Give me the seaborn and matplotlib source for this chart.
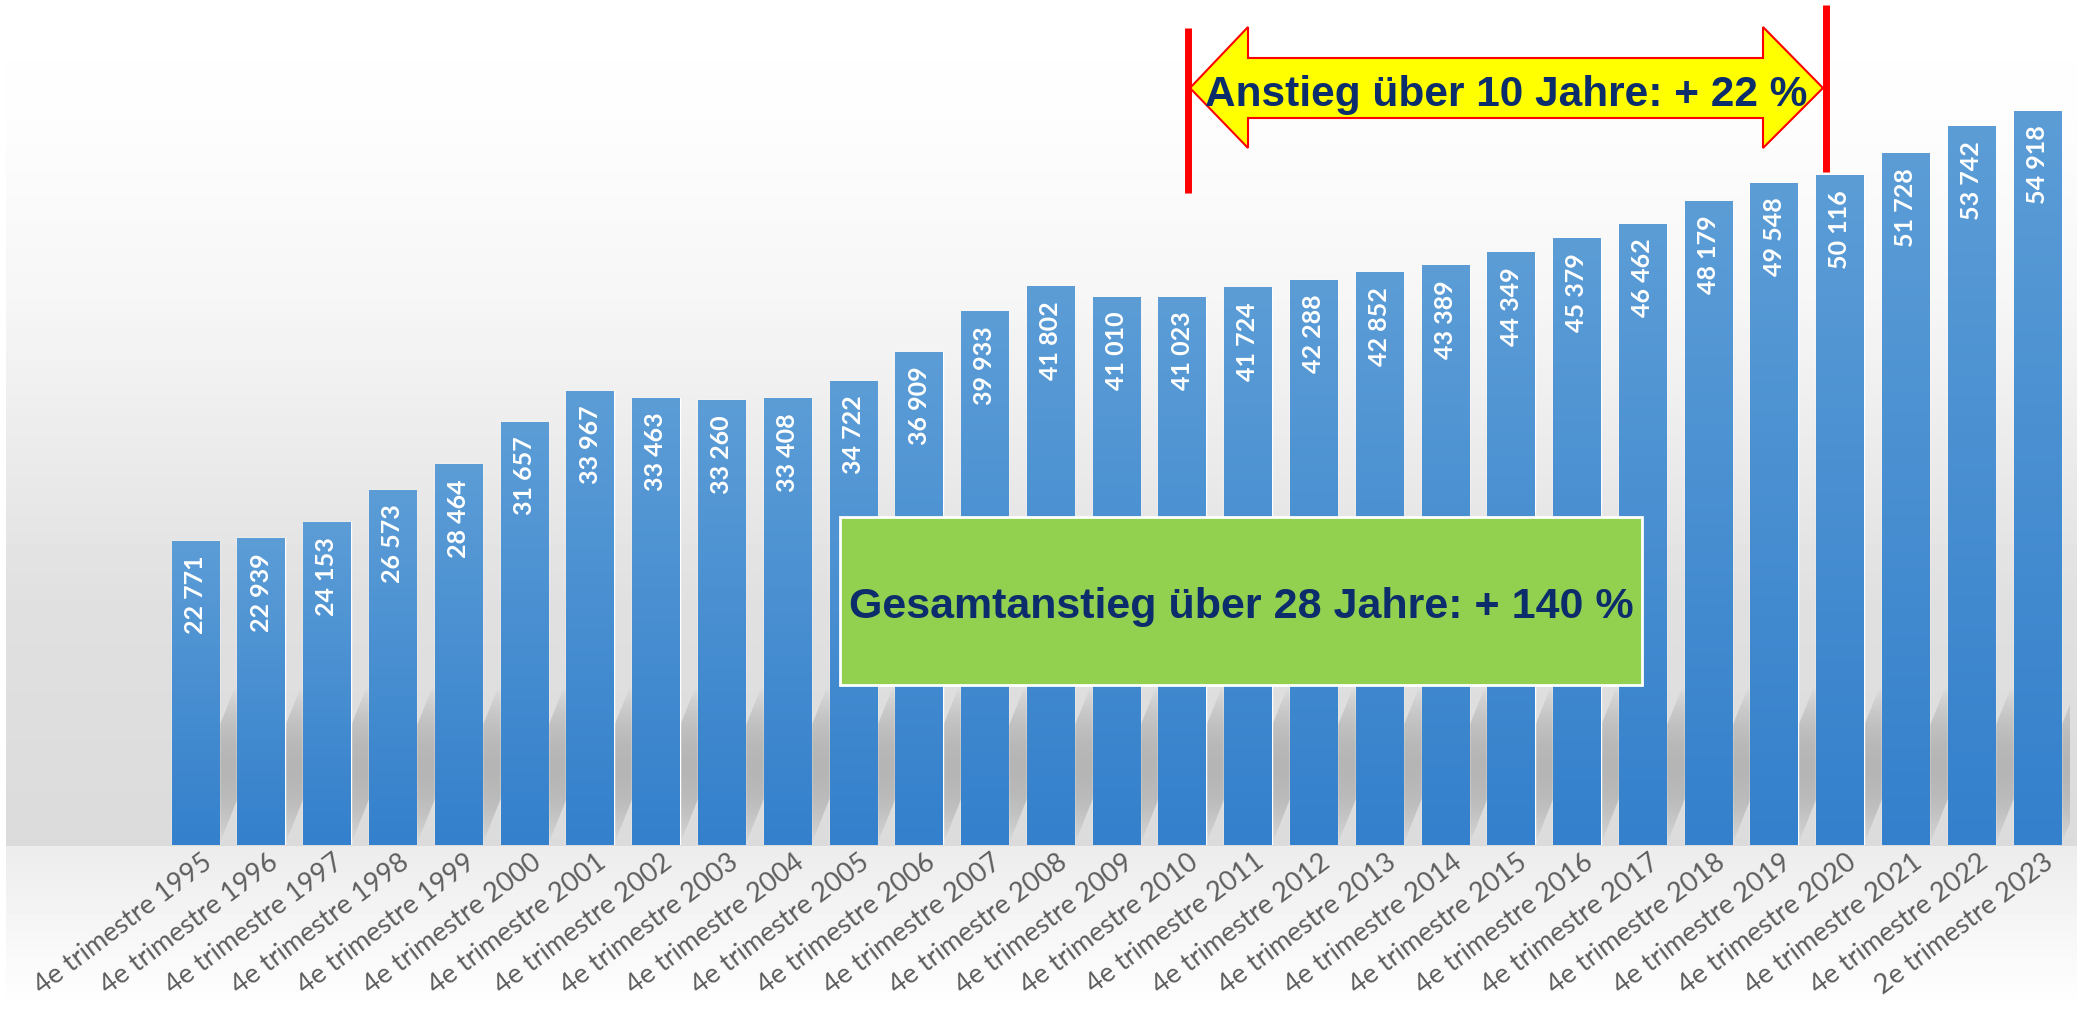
import numpy as np
import pandas as pd
import seaborn as sns
import matplotlib.pyplot as plt
from matplotlib import font_manager
from matplotlib.patches import Polygon, Rectangle, PathPatch
from matplotlib.path import Path
from matplotlib.colors import LinearSegmentedColormap
from matplotlib.transforms import ScaledTranslation

# data
quarters = ["4e"] * 28 + ["2e"]
years = [1995, 1996, 1997, 1998, 1999, 2000, 2001, 2002, 2003, 2004,
         2005, 2006, 2007, 2008, 2009, 2010, 2011, 2012, 2013, 2014,
         2015, 2016, 2017, 2018, 2019, 2020, 2021, 2022, 2023]
values = [22771, 22939, 24153, 26573, 28464, 31657, 33967, 33463, 33260, 33408,
          34722, 36909, 39933, 41802, 41010, 41023, 41724, 42288, 42852, 43389,
          44349, 45379, 46462, 48179, 49548, 50116, 51728, 53742, 54918]
arrow_text = "Anstieg über 10 Jahre: + 22 %"
box_text = "Gesamtanstieg über 28 Jahre: + 140 %"

periods = [f"{q} trimestre {y}" for q, y in zip(quarters, years)]
df = pd.DataFrame({"periode": periods, "wert": values})

sns.set_theme(style="white")
plt.rcParams['font.family'] = ['Lato', 'DejaVu Sans']

# narrow font for the numbers inside the bars, if there is one
installed = {f.name for f in font_manager.fontManager.ttflist}
if "Liberation Sans Narrow" in installed:
    num_font, num_size = ["Liberation Sans Narrow", "DejaVu Sans"], 21
else:
    num_font, num_size = ["Lato", "DejaVu Sans"], 18

W, H = 2077, 1009
fig = plt.figure(figsize=(W / 100, H / 100), dpi=100)

# background: soft grey gradient like the original slide
bg = fig.add_axes([0, 0, 1, 1], zorder=0)
rows = np.arange(H)
grey = np.interp(rows, [0, 120, 300, 450, 600, 845, 846, 930, 1009],
                 [255, 253, 246, 235, 224, 219, 236, 246, 255]) / 255
img = np.repeat(grey[:, None], 4, axis=1)
bg.imshow(img, cmap="gray", vmin=0, vmax=1, aspect="auto", extent=[0, W, H, 0])
bg.add_patch(Rectangle((0, 0), 6, H, color="white", lw=0))
bg.set_xlim(0, W)
bg.set_ylim(H, 0)
bg.axis("off")

# bar chart
ax = fig.add_axes([162.5 / W, 164 / H, 1907.7 / W, 845 / H], zorder=1)
ax.patch.set_alpha(0)
sns.barplot(data=df, x="periode", y="wert", color="#4a8fd4", saturation=1,
            width=0.72, ax=ax)

# slanted soft shadows behind the bars
half, skew, sh_h = 0.36, 1.1, 13500
shadow_paths = []
for i in range(len(values)):
    shadow_paths.append(Path([(i - half, 0), (i + half, 0),
                              (i + half + skew, sh_h), (i - half + skew, sh_h),
                              (i - half, 0)], closed=True))
shadow = PathPatch(Path.make_compound_path(*shadow_paths), facecolor="none",
                   edgecolor="none")
ax.add_patch(shadow)
t = np.linspace(0, 1, 200)
sh_img = np.zeros((200, 1, 4))
sh_img[:, 0, :3] = 0.5
sh_img[:, 0, 3] = 0.42 * np.sin(np.pi * np.clip(t * 1.15, 0, 1)) ** 0.8
im = ax.imshow(sh_img, extent=[-0.5, len(values) + 0.5, 0, sh_h], origin="lower",
               aspect="auto", zorder=0.5)
im.set_clip_path(shadow)

bar_cmap = LinearSegmentedColormap.from_list("bar", ["#3480cc", "#5c9dd6"])
grad = np.linspace(0, 1, 256).reshape(-1, 1)
for patch in ax.patches:
    if not isinstance(patch, Rectangle):
        continue
    x0, y0 = patch.get_x(), patch.get_y()
    w, h = patch.get_width(), patch.get_height()
    im = ax.imshow(grad, extent=[x0, x0 + w, y0, y0 + h], origin="lower",
                   cmap=bar_cmap, aspect="auto", zorder=patch.get_zorder() + 0.1)
    im.set_clip_path(patch)

ax.set_xlim(-0.5, len(values) - 0.5)
ax.set_ylim(0, 63200)
ax.set_yticks([])
ax.set_xlabel("")
ax.set_ylabel("")
sns.despine(ax=ax, left=True, bottom=True)

# value labels inside the bars
for i, v in enumerate(values):
    ax.annotate(f"{v:,}".replace(",", " "), (i, v), xytext=(0, -15),
                textcoords="offset pixels", rotation=90, ha="center", va="top",
                color="white", fontsize=num_size, fontweight="bold",
                family=num_font, zorder=5)

# slanted period labels
ax.tick_params(axis="x", length=0, pad=3, labelsize=19.5, labelcolor="#5e5e5e")
shift = ScaledTranslation(0.06, 0, fig.dpi_scale_trans)
for lab in ax.get_xticklabels():
    lab.set_rotation(37)
    lab.set_ha("right")
    lab.set_va("top")
    lab.set_rotation_mode("anchor")
    lab.set_transform(lab.get_transform() + shift)

# annotations in pixel coordinates
ov = fig.add_axes([0, 0, 1, 1], zorder=2)
ov.patch.set_alpha(0)
ov.set_xlim(0, W)
ov.set_ylim(H, 0)
ov.axis("off")

navy = "#0c2d6b"
ann_font = ['Liberation Sans', 'DejaVu Sans']

ov.plot([1188, 1188], [28, 193], color="#ff0000", lw=5, solid_capstyle="butt")
ov.plot([1826, 1826], [5, 172], color="#ff0000", lw=5, solid_capstyle="butt")
arrow = Polygon([(1190, 88), (1248, 27), (1248, 58), (1763, 58), (1763, 27),
                 (1823, 88), (1763, 148), (1763, 118), (1248, 118), (1248, 148)],
                closed=True, facecolor="#ffff00", edgecolor="#ff0000", lw=1.5)
ov.add_patch(arrow)
ov.text(1506, 106, arrow_text, ha="center", va="baseline", color=navy,
        fontsize=30.5, fontweight="bold", family=ann_font)

ov.add_patch(Rectangle((840, 517), 802, 168, facecolor="#92d050",
                       edgecolor="white", lw=2))
ov.text(1241, 618, box_text, ha="center", va="baseline", color=navy,
        fontsize=31, fontweight="bold", family=ann_font)

fig.savefig("out.png", dpi=100)
